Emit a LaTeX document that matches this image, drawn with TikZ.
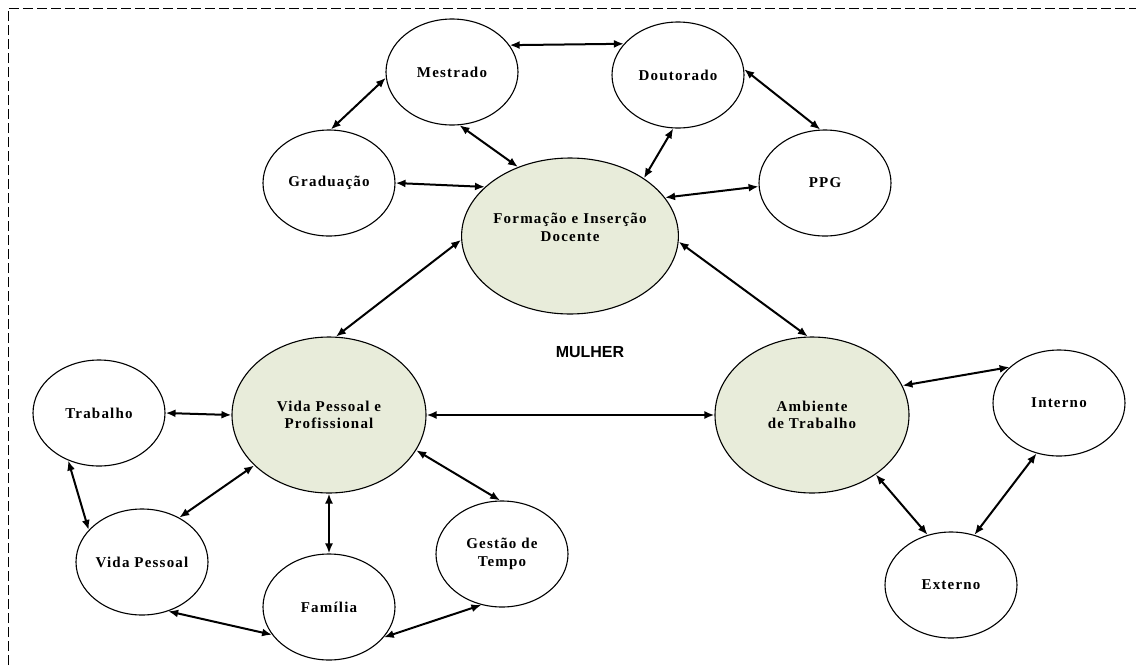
\documentclass[tikz,border=0pt]{standalone}
\usepackage{fontspec}
\setmainfont{Liberation Serif}
\newfontfamily\lblfont[LetterSpace=8]{Liberation Serif}
\newfontfamily\mulherfont{Liberation Sans}
\usetikzlibrary{shapes.geometric,arrows.meta}
\definecolor{bigfill}{RGB}{232,236,218}
\begin{document}
\begin{tikzpicture}[x=1pt,y=-1pt,line width=1.1pt,
  every node/.style={font=\lblfont\bfseries\fontsize{15}{17.5}\selectfont,inner sep=0pt,align=center},
  small/.style={ellipse,draw,minimum width=132pt,minimum height=106pt},
  big/.style={ellipse,draw,fill=bigfill,minimum width=194pt,minimum height=156pt},
  link/.style={{Latex[length=10pt,width=8pt]}-{Latex[length=10pt,width=8pt]},line width=2pt}]
\useasboundingbox (0,0) rectangle (1136,665);
\draw[dash pattern=on 10pt off 4pt,line width=1pt] (8,665) -- (8,8) -- (1136,8);
% formacao
\node[small] (mes) at (452,72) {Mestrado};
\node[small] (dou) at (678,75) {Doutorado};
\node[small] (gra) at (329,183) {Graduação};
\node[small] (ppg) at (825,183) {PPG};
\node[big] (for) at (570,236) {Formação e Inserção\\Docente\\\mbox{}};
% vida
\node[big] (vpp) at (329,415) {Vida Pessoal e\\Profissional};
\node[small] (tra) at (99,413) {Trabalho};
\node[small] (vp) at (142,562) {Vida Pessoal};
\node[small] (fam) at (329,607) {Família};
\node[small] (ges) at (502,554) {Gestão de\\Tempo};
% ambiente
\node[big] (amb) at (812,415) {Ambiente\\de Trabalho};
\node[small] (int) at (1059,403) {Interno};
\node[small] (ext) at (951,585) {Externo};
\node[font=\mulherfont\bfseries\fontsize{16}{18}\selectfont] (mul) at (590,352) {MULHER};
\draw[link] (mes.25) -- (dou.150);
\draw[link] (mes.185) -- (gra.88);
\draw[link] (mes.278) -- (for.127);
\draw[link] (dou.265) -- (for.38);
\draw[link] (dou.5) -- (ppg.95);
\draw[link] (gra.0) -- (for.150);
\draw[link] (ppg.183) -- (for.22);
\draw[link] (for.182) -- (vpp.85);
\draw[link] (for.-3) -- (amb.93);
\draw[link] (vpp.0) -- (amb.180);
\draw[link] (tra.0) -- (vpp.180);
\draw[link] (tra.237) -- (vp.149);
\draw[link] (vpp.214) -- (vp.50);
\draw[link] (vpp.270) -- (fam.90);
\draw[link] (vpp.-22) -- (ges.92);
\draw[link] (vp.298) -- (fam.206);
\draw[link] (fam.-29) -- (ges.248);
\draw[link] (amb.18) -- (int.144);
\draw[link] (int.246) -- (ext.65);
\draw[link] (amb.-43) -- (ext.115);
\end{tikzpicture}
\end{document}
